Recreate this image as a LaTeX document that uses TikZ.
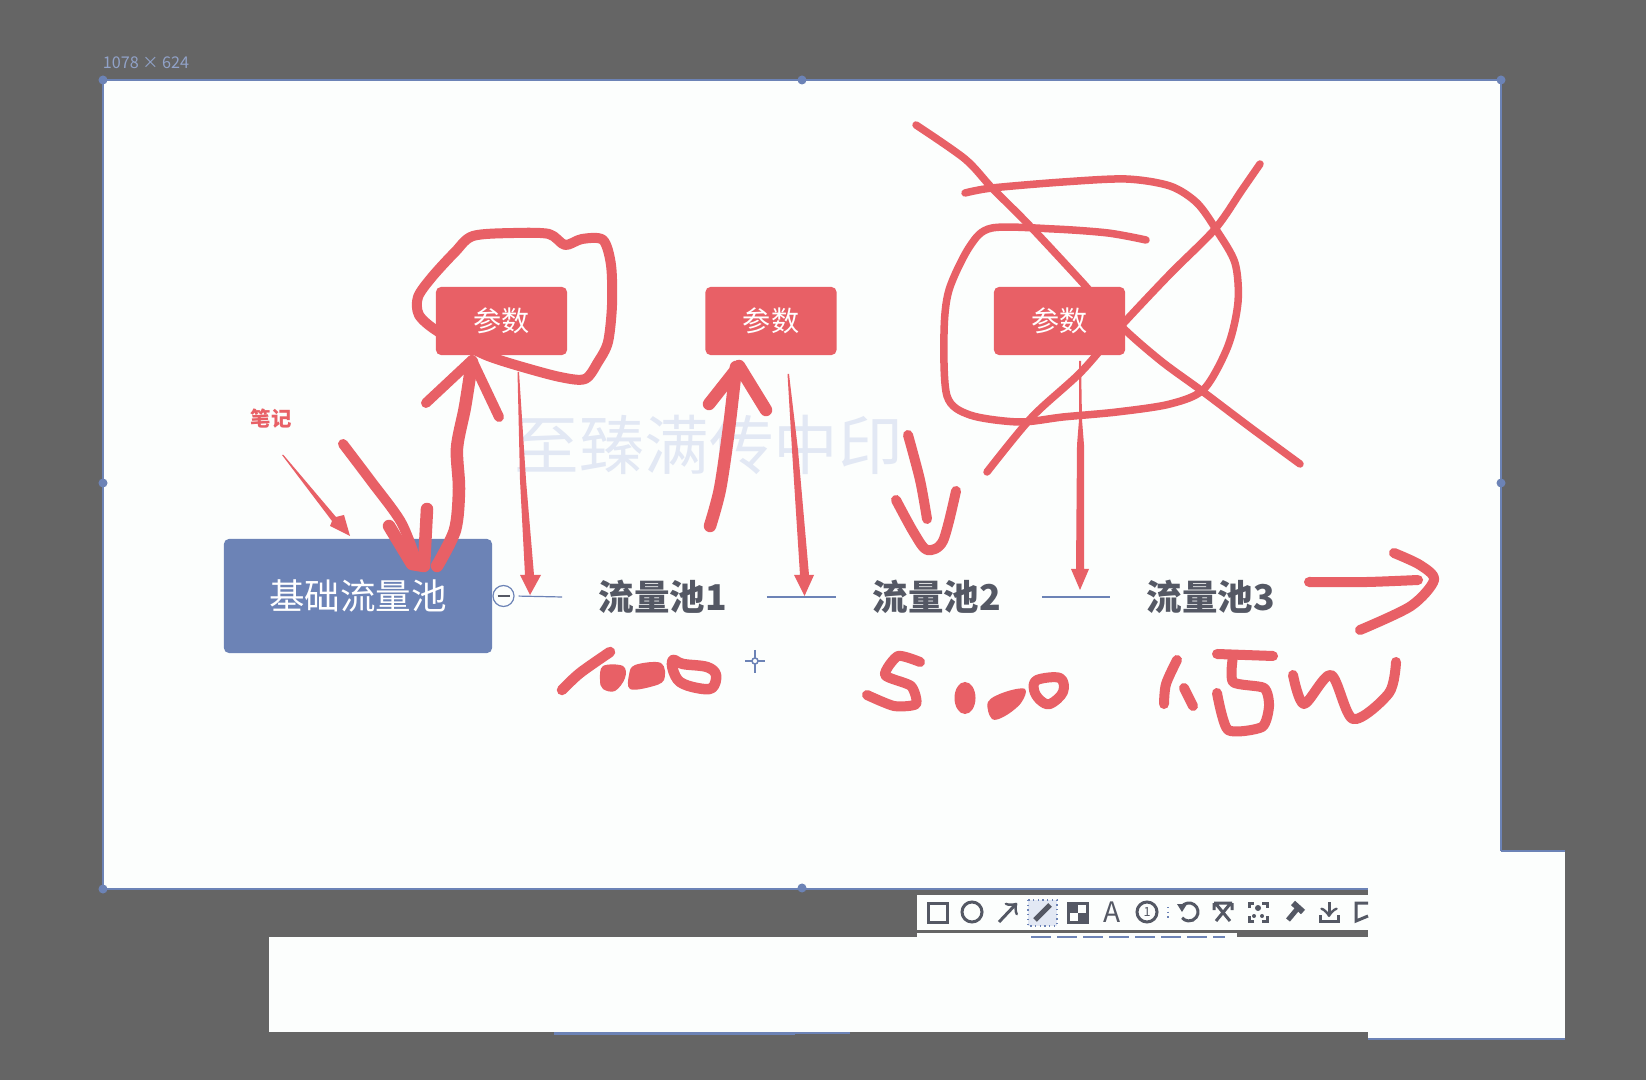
\documentclass[tikz,border=0pt]{standalone}
\usepackage{fontspec}
\usepackage{tikz}
\newfontfamily\cjk{Noto Sans CJK SC}
\definecolor{deskgray}{RGB}{101,101,101}
\definecolor{sheetwhite}{RGB}{252,254,253}
\definecolor{markblue}{RGB}{108,131,182}
\definecolor{markred}{RGB}{232,96,102}
\definecolor{poolgray}{RGB}{84,88,100}
\definecolor{ghostblue}{RGB}{226,232,244}
\tikzset{
  basebox/.style={fill=markblue, rounded corners=0.05cm, minimum width=2.68cm, minimum height=1.14cm, text=white, inner sep=0pt, font=\cjk\fontsize{10.1}{12}\selectfont},
  parambox/.style={fill=markred, rounded corners=0.05cm, minimum width=1.31cm, minimum height=0.68cm, text=white, inner sep=0pt, font=\cjk\fontsize{8}{10}\selectfont},
  poollabel/.style={text=poolgray, inner sep=0pt, font=\cjk\bfseries\fontsize{10.1}{12}\selectfont},
  poolline/.style={draw=markblue, line width=0.012cm},
  pen/.style={draw=markred, line width=0.1cm, line cap=round, line join=round},
  penfat/.style={pen, line width=0.125cm},
  penslim/.style={pen, line width=0.075cm},
  tool/.style={draw=poolgray, line width=0.03cm},
  toolfont/.style={text=poolgray, inner sep=0pt, font=\cjk\fontsize{6.5}{8}\selectfont}
}
\begin{document}
\begin{tikzpicture}[x=0.01cm,y=-0.01cm]
\useasboundingbox (0,0) rectangle (1646,1080);
\fill[deskgray] (0,0) rectangle (1646,1080);

% Sheet
\fill[sheetwhite] (103,80) rectangle (1501,889);
\fill[sheetwhite] (1368,851) rectangle (1565,1039);
\fill[sheetwhite] (269,937) rectangle (1368,1032);
\fill[sheetwhite] (917,895) rectangle (1368,937);
\fill[deskgray] (1237,930) rectangle (1368,937);
\fill[deskgray] (917,889) rectangle (1368,895);
\fill[deskgray] (917,930) rectangle (1237,933);
\draw[markblue, line width=0.02cm] (1501,851) -- (1501,80) -- (103,80) -- (103,889) -- (1368,889);
\draw[markblue, line width=0.012cm] (1501,851) -- (1565,851) (1565,1039) -- (1368,1039);
\fill[markblue] (554,1032) rectangle (795,1035);
\draw[markblue, line width=0.012cm] (795,1033) -- (850,1033);
\foreach \x/\y in {103/80,802/80,1501/80,103/483,1501/483,103/889,802/888} {
    \fill[markblue] (\x,\y) circle (0.045cm);
}
\node[text=markblue!75!white, inner sep=0pt, font=\cjk\fontsize{4.6}{6}\selectfont] (sizetag) at (146,63) {1078 × 624};

% Watermark
\node[text=ghostblue, inner sep=0pt, font=\cjk\fontsize{18.4}{20}\selectfont] (ghostmark) at (709,445) {至臻满传中印};

% Pools
\node[basebox] (basepool) at (358,596) {基础流量池};
\node[circle, draw=markblue, fill=sheetwhite, line width=0.012cm, minimum size=0.21cm, inner sep=0pt] (collapse) at (503.5,596) {};
\node[poollabel] (poolone) at (663,597) {流量池1};
\node[poollabel] (pooltwo) at (937,597) {流量池2};
\node[poollabel] (poolthree) at (1211,597) {流量池3};
\draw[poolgray, line width=0.02cm] (collapse.center) ++(-6,0) -- ++(12,0);
\draw[poolline, shorten <=0.04cm] (collapse.east) -- ([xshift=-0.36cm]poolone.west);
\draw[poolline] ([xshift=0.39cm]poolone.east) -- ([xshift=-0.36cm]pooltwo.west);
\draw[poolline] ([xshift=0.4cm]pooltwo.east) -- ([xshift=-0.36cm]poolthree.west);

% Parameter boxes
\node[parambox] (paramone) at (501.5,321) {参数};
\node[parambox] (paramtwo) at (771,321) {参数};
\node[parambox] (paramthree) at (1059.5,321) {参数};
\node[text=markred, inner sep=0pt, font=\cjk\bfseries\fontsize{5.8}{7}\selectfont] (notetag) at (271,419) {笔记};

% First loop and arrows
\draw[pen] plot[smooth, tension=0.5] coordinates {(473,350) (437,331) (419,315) (418,297) (432,277) (455,252) (473,236) (514,233) (549,234) (565,245) (582,239) (603,240) (611,265) (612,305) (608,342) (598,362) (585,379) (560,377) (519,366) (488,356) (463,344) (437,330)};
\draw[penfat] plot[smooth, tension=0.5] coordinates {(437,566) (455,530) (459,489) (457,448) (465,407) (472,362)};
\draw[pen] (426,403) -- (472,360) -- (499,417);
\draw[pen] plot[smooth, tension=0.5] coordinates {(343,444) (371,481) (401,522) (417,562)};
\draw[penfat] (389,526) -- (412,564) -- (424,566) -- (427,509);
\fill[markred] (282,455) -- (283.5,455) -- (336,517) -- (344,515) -- (350,536) -- (330,526) -- (332,521) -- cycle;
\fill[markred] (517.5,372) -- (519,372) -- (526,480) -- (534,575) -- (541,575) -- (530,595) -- (520,575) -- (525,575) -- (520,480) -- cycle;

% Second arrows
\draw[penfat] plot[smooth, tension=0.5] coordinates {(710,526) (720,489) (729,428) (736,367)};
\draw[penfat] (709,404) -- (739,366) -- (766,410);
\fill[markred] (787.5,374) -- (789,374) -- (798,450) -- (809,575) -- (814,575) -- (804.5,596) -- (794,575) -- (800,575) -- (792,450) -- cycle;
\draw[pen] plot[smooth, tension=0.5] coordinates {(908,435) (920,480) (927,519)};
\draw[pen] plot[smooth, tension=0.5] coordinates {(896,500) (914,533) (927,550) (943,541) (956,491)};

% Crossed out third box
\draw[penslim] plot[smooth, tension=0.5] coordinates {(916,125) (965,159) (992,188) (1028,224) (1081,281) (1121,326) (1161,361) (1202,391) (1251,428) (1300,464)};
\draw[penslim] plot[smooth, tension=0.5] coordinates {(1260,164) (1242,190) (1215,229) (1170,274) (1121,326) (1081,372) (1032,417) (987,472)};
\draw[penslim] plot[smooth, tension=0.5] coordinates {(965,193) (992,188) (1063,182) (1126,179) (1170,186) (1197,203) (1217,231) (1235,263) (1238,302) (1228,346) (1204,389) (1170,404) (1117,412) (1063,417) (1019,422) (970,415) (947,396) (944,333) (949,290) (970,246) (992,228) (1054,229) (1108,233) (1146,240)};
\fill[markred] (1079,361) -- (1081,361) -- (1082,420) -- (1084,445) -- (1084,569) -- (1089,569) -- (1080,590) -- (1071,569) -- (1076,569) -- (1077,445) -- (1079,420) -- cycle;
\draw[pen] plot[smooth, tension=0.4] coordinates {(1309,582) (1367,582) (1418,580)};
\draw[pen] plot[smooth, tension=0.5] coordinates {(1394,553) (1420,565) (1434,580) (1411,606) (1360,630)};

% Counts
\draw[pen, line width=0.105cm] plot[smooth, tension=0.5] coordinates {(562,690) (580,673) (610,652)};
\fill[markred] plot[smooth cycle, tension=0.6] coordinates {(603,666) (623,666) (625,678) (615,691) (603,689) (600,680)};
\fill[markred] plot[smooth cycle, tension=0.6] coordinates {(635,665) (661,663) (664,680) (650,687) (630,689) (629,675)};
\draw[pen, line width=0.105cm] plot[smooth cycle, tension=0.6] coordinates {(673,660) (683,664) (707,667) (716,675) (712,688) (697,688) (680,682) (673,670)};
\draw[pen] plot[smooth, tension=0.4] coordinates {(920,662) (898,656) (885,675) (911,686) (916,704) (894,706) (867,695)};
\fill[markred] (965,698) ellipse [x radius=0.105cm, y radius=0.16cm];
\fill[markred] plot[smooth cycle, tension=0.6] coordinates {(988,702) (1005,692) (1025,689) (1021,703) (1005,716) (992,719)};
\draw[pen] plot[smooth cycle, tension=0.6] coordinates {(1037,680) (1060,678) (1063,692) (1050,704) (1040,700) (1034,690)};
\draw[pen] plot[smooth, tension=0.5] coordinates {(1177,660) (1166,684) (1164,704)};
\draw[pen] (1184,688) -- (1193,706);
\draw[pen] (1217,654) -- (1273,656);
\draw[pen] plot[smooth, tension=0.4] coordinates {(1233,656) (1233,682) (1264,688) (1269,706) (1262,727) (1228,730) (1217,693)};
\draw[pen] plot[smooth, tension=0.5] coordinates {(1293,675) (1304,704) (1331,675) (1353,719) (1389,693) (1396,662)};

% Cursor
\draw[markblue, line width=0.02cm] (755,650) -- (755,673);
\draw[markblue, line width=0.012cm] (745,661) -- (765,661);
\draw[markblue, fill=sheetwhite, line width=0.015cm] (755,661) circle (0.03cm);

% Toolbar
\draw[tool] (928,903) rectangle (947,922);
\draw[tool] (972,912) circle (0.1cm);
\draw[tool, ->] (999,922) -- (1017,903);
\draw[markblue, densely dotted, fill=ghostblue, line width=0.012cm] (1028,900) rectangle (1057,926);
\draw[tool, line width=0.05cm] (1035,920) -- (1050,905);
\draw[tool] (1068,903) rectangle (1087,922);
\fill[poolgray] (1068,903) rectangle (1077.5,912.5);
\fill[poolgray] (1077.5,912.5) rectangle (1087,922);
\node[toolfont, font=\cjk\fontsize{8}{10}\selectfont] (tooltext) at (1112,912) {A};
\node[circle, tool, minimum size=0.2cm, inner sep=0pt, text=poolgray, font=\cjk\fontsize{3.6}{4}\selectfont] (toolnumber) at (1147,912) {1};
\draw[markblue, densely dotted, line width=0.012cm] (1168,907) -- (1168,920);
\draw[tool] (1181.6,906.8) arc (145:-140:0.09cm);
\fill[poolgray] (1177,904) -- (1187,904) -- (1182,912) -- cycle;
\draw[tool] (1214,903) -- (1232,903) (1214,903) -- (1214,910) (1232,903) -- (1232,910) (1216,904) -- (1230,921) (1230,904) -- (1216,921);
\draw[tool] (1249,908) -- (1249,903) -- (1254,903) (1262,903) -- (1267,903) -- (1267,908) (1267,916) -- (1267,921) -- (1262,921) (1254,921) -- (1249,921) -- (1249,916);
\fill[poolgray] (1258,908) circle (0.03cm) (1254,916) circle (0.02cm) (1262,916) circle (0.02cm);
\draw[tool, line width=0.05cm] (1288,920) -- (1298,908);
\draw[tool, line width=0.06cm] (1293,903) -- (1303,912);
\draw[tool] (1320,915) -- (1320,921) -- (1338,921) -- (1338,915);
\draw[tool, ->] (1329,902) -- (1329,917);
\draw[tool] (1368,903) -- (1356,903) -- (1356,921) -- (1368,916);
\draw[markblue, dash pattern=on 0.2cm off 0.06cm, line width=0.012cm] (1031,937) -- (1225,937);

\end{tikzpicture}
\end{document}
